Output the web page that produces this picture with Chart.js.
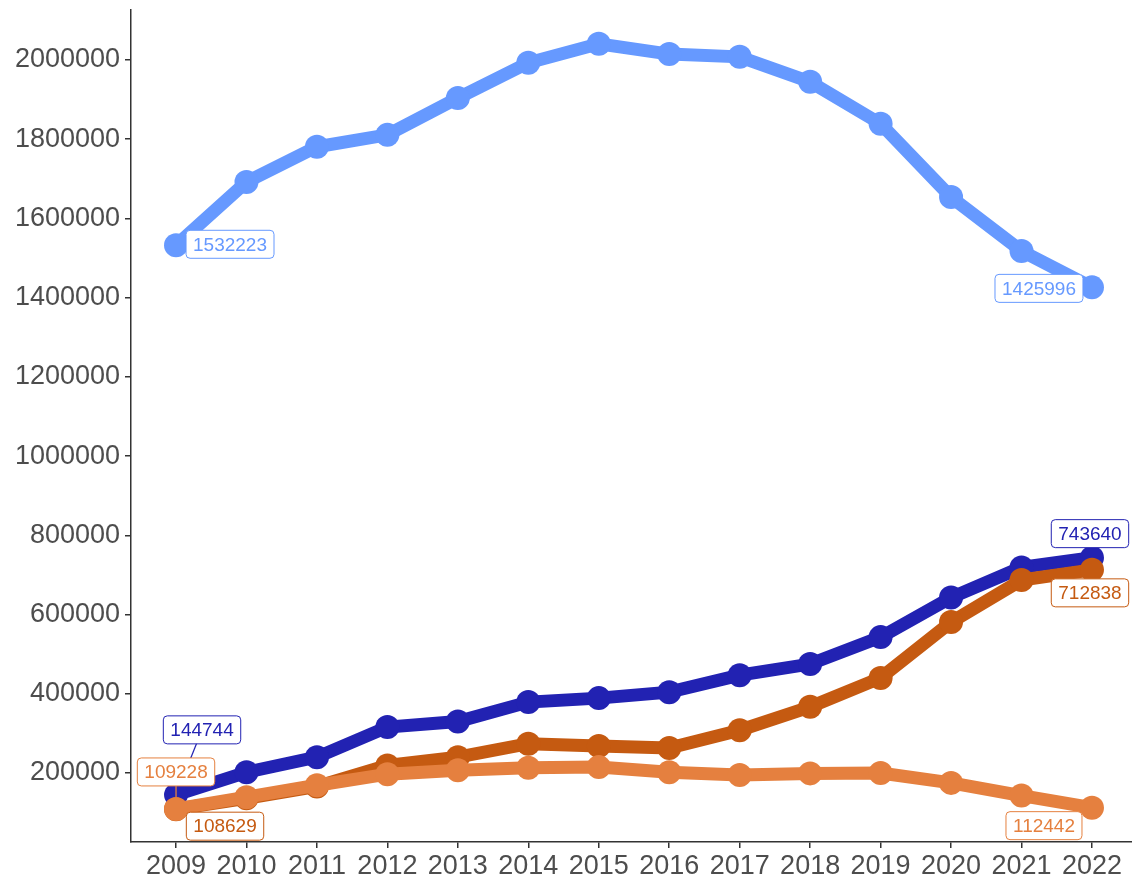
<!DOCTYPE html>
<html lang="en">
<head>
<meta charset="UTF-8">
<title>Trend 2009-2022</title>
<script src="https://cdn.jsdelivr.net/npm/chart.js"></script>
<style>
    body {
        margin: 0;
        background-color: #ffffff;
    }
    #wrap {
        width: 1132px;
        height: 879px;
    }
</style>
</head>
<body>
<div id="wrap"><canvas id="lineChart" width="1132" height="879"></canvas></div>
<script>
// Years along the x axis
const years = [2009, 2010, 2011, 2012, 2013, 2014, 2015, 2016, 2017, 2018, 2019, 2020, 2021, 2022];

// Series values (end points are the labelled ones)
const lightBlue   = [1532223, 1692000, 1781000, 1811000, 1904000, 1993000, 2041000, 2015000, 2008000, 1945000, 1839000, 1654000, 1518000, 1425996];
const darkBlue    = [144744, 202000, 240000, 316000, 330000, 379000, 389000, 404000, 447000, 475000, 543000, 643000, 719000, 743640];
const darkOrange  = [108629, 136000, 166000, 219000, 240000, 274000, 268000, 263000, 308000, 367000, 440000, 581000, 687000, 712838];
const lightOrange = [109228, 139000, 169000, 197000, 207000, 213000, 215000, 202000, 195000, 199000, 200000, 175000, 143000, 112442];

// Tick labels on the y axis
const yTicks = [200000, 400000, 600000, 800000, 1000000, 1200000, 1400000, 1600000, 1800000, 2000000];

const FONT = '"Liberation Sans", Arial, sans-serif';

function toPoints(vals) {
    return years.map((yr, i) => ({ x: yr, y: vals[i] }));
}

function makeSet(vals, color) {
    return {
        data: toPoints(vals),
        borderColor: color,
        backgroundColor: color,
        borderWidth: 13,
        pointRadius: 12,
        pointHoverRadius: 12,
        pointBorderWidth: 0,
        tension: 0,
        clip: false
    };
}

// ggrepel-like boxed labels on the first and last points
const endLabels = {
    id: 'endLabels',
    afterDatasetsDraw(chart, args, opts) {
        const ctx = chart.ctx;
        ctx.save();
        ctx.font = '19px ' + FONT;
        const boxes = opts.items.map(it => {
            const ds = chart.data.datasets[it.ds];
            const pt = chart.getDatasetMeta(it.ds).data[it.i];
            const text = String(ds.data[it.i].y);
            const w = ctx.measureText(text).width + 14;
            return { it, ds, pt, text, w, cx: pt.x + it.dx, cy: pt.y + it.dy };
        });

        // segments first, the boxes cover them
        boxes.forEach(b => {
            if (!b.it.leader) return;
            const ang = Math.atan2(b.pt.y - b.cy, b.pt.x - b.cx);
            const ex = b.pt.x - Math.cos(ang) * 12;
            const ey = b.pt.y - Math.sin(ang) * 12;
            ctx.strokeStyle = b.ds.borderColor;
            ctx.lineWidth = 1.3;
            ctx.beginPath();
            ctx.moveTo(b.cx, b.cy);
            ctx.lineTo(ex, ey);
            ctx.stroke();
        });

        boxes.forEach(b => {
            const h = 28;
            ctx.beginPath();
            ctx.roundRect(b.cx - b.w / 2, b.cy - h / 2, b.w, h, 4);
            ctx.fillStyle = '#ffffff';
            ctx.fill();
            ctx.strokeStyle = b.ds.borderColor;
            ctx.lineWidth = 1;
            ctx.stroke();
            ctx.fillStyle = b.ds.borderColor;
            ctx.textAlign = 'center';
            ctx.textBaseline = 'middle';
            ctx.fillText(b.text, b.cx, b.cy + 1);
        });
        ctx.restore();
    }
};

const ctx = document.getElementById('lineChart').getContext('2d');
new Chart(ctx, {
    type: 'line',
    data: {
        datasets: [
            makeSet(lightOrange, '#e5803f'),
            makeSet(darkOrange, '#c55a11'),
            makeSet(darkBlue, '#2222b2'),
            makeSet(lightBlue, '#6699ff')
        ]
    },
    options: {
        responsive: false,
        animation: false,
        devicePixelRatio: 1,
        layout: { autoPadding: false, padding: { top: 10, right: 0, left: 0, bottom: 0 } },
        plugins: {
            legend: { display: false },
            tooltip: { enabled: false },
            endLabels: {
                items: [
                    { ds: 3, i: 0, dx: 54, dy: -1 },
                    { ds: 3, i: 13, dx: -53, dy: 1 },
                    { ds: 2, i: 13, dx: -2, dy: -24 },
                    { ds: 1, i: 13, dx: -2, dy: 23 },
                    { ds: 2, i: 0, dx: 26, dy: -65, leader: true },
                    { ds: 0, i: 0, dx: 0, dy: -37, leader: true },
                    { ds: 1, i: 0, dx: 49, dy: 17 },
                    { ds: 0, i: 13, dx: -48, dy: 18 }
                ]
            }
        },
        scales: {
            x: {
                type: 'linear',
                min: 2008.361,
                max: 2022.568,
                afterBuildTicks: axis => { axis.ticks = years.map(v => ({ value: v })); },
                afterFit: axis => {
                    axis.height = 37;
                    axis.paddingLeft = 0;
                    axis.paddingRight = 0;
                },
                border: { display: true, color: '#333333', width: 1.5 },
                grid: { drawOnChartArea: false, drawTicks: true, tickLength: 6, color: '#333333', lineWidth: 1.5 },
                ticks: {
                    padding: 2,
                    color: '#4d4d4d',
                    font: { family: FONT, size: 27 },
                    maxRotation: 0,
                    autoSkip: false,
                    callback: v => String(v)
                }
            },
            y: {
                min: 25758,
                max: 2126263,
                afterBuildTicks: axis => { axis.ticks = yTicks.map(v => ({ value: v })); },
                afterFit: axis => {
                    axis.width = 131;
                    axis.paddingTop = 0;
                    axis.paddingBottom = 0;
                },
                border: { display: true, color: '#333333', width: 1.5 },
                grid: { drawOnChartArea: false, drawTicks: true, tickLength: 6, color: '#333333', lineWidth: 1.5 },
                ticks: {
                    padding: 5,
                    color: '#4d4d4d',
                    font: { family: FONT, size: 27 },
                    callback: v => String(v)
                }
            }
        }
    },
    plugins: [endLabels]
});
</script>
</body>
</html>
